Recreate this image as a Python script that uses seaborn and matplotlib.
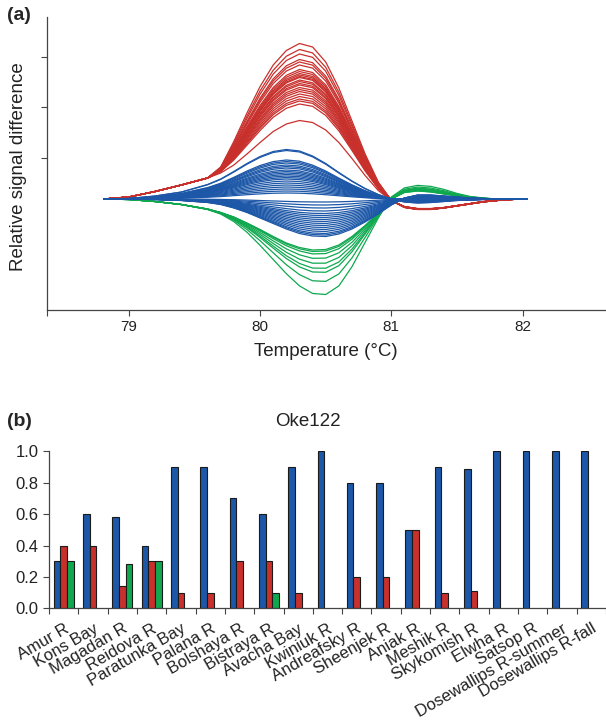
import numpy as np
import pandas as pd
import matplotlib
matplotlib.use("Agg")
import matplotlib.pyplot as plt
import matplotlib.transforms as mtransforms
import seaborn as sns

sns.set_theme(style="ticks")
plt.rcParams['font.family'] = ['Liberation Sans', 'DejaVu Sans']

# ---------------- Panel (a): difference curves ----------------
temps = [78.81, 79.0, 79.2, 79.4, 79.6, 79.7, 79.8, 79.9, 80.0, 80.1, 80.2, 80.3,
         80.4, 80.5, 80.6, 80.7, 80.8, 80.9, 81.0, 81.1, 81.2, 81.3, 81.4, 81.5,
         81.6, 81.7, 81.8, 81.9, 82.03]

# red cluster: lowest and highest curves
red_low = [0.0, 0.04, 0.15, 0.28, 0.42, 0.52, 0.68, 0.90, 1.13, 1.35, 1.50, 1.57,
           1.53, 1.38, 1.13, 0.81, 0.47, 0.17, -0.03, -0.15, -0.19, -0.19, -0.17, -0.13,
           -0.09, -0.05, -0.03, -0.01, 0.0]
red_high = [0.0, 0.04, 0.15, 0.28, 0.42, 0.64, 1.15, 1.72, 2.25, 2.68, 2.97, 3.11,
            3.04, 2.74, 2.22, 1.56, 0.90, 0.34, -0.03, -0.17, -0.21, -0.21, -0.18, -0.14,
            -0.10, -0.06, -0.03, -0.01, 0.0]
red_peaks = [3.11, 2.99, 2.90, 2.79, 2.74, 2.68, 2.59, 2.55, 2.51, 2.48, 2.45, 2.43,
             2.38, 2.35, 2.31, 2.28, 2.23, 2.19, 2.15, 2.10, 2.05, 2.00, 1.96, 1.90, 1.57]

# blue cluster: highest (up) and lowest (down) curves
blue_up = [0.0, 0.01, 0.06, 0.14, 0.29, 0.40, 0.55, 0.71, 0.85, 0.95, 0.99, 0.96,
           0.86, 0.71, 0.53, 0.36, 0.21, 0.09, 0.0, -0.06, -0.08, -0.07, -0.05, -0.03,
           -0.02, -0.01, 0.0, 0.0, 0.0]
blue_down = [0.0, 0.0, -0.01, -0.03, -0.07, -0.11, -0.18, -0.27, -0.38, -0.49, -0.60, -0.69,
             -0.74, -0.75, -0.70, -0.60, -0.46, -0.30, -0.12, 0.02, 0.08, 0.08, 0.06, 0.04,
             0.02, 0.01, 0.0, 0.0, 0.0]
blue_peaks = [0.99, 0.97, 0.78, 0.75, 0.72, 0.68, 0.65, 0.62, 0.58, 0.55, 0.52, 0.49,
              0.46, 0.43, 0.40, 0.36, 0.32, 0.28, 0.24, 0.20, 0.16, 0.12,
              -0.06, -0.12, -0.18, -0.24, -0.29, -0.33, -0.37, -0.41, -0.45, -0.49,
              -0.53, -0.57, -0.61, -0.65, -0.69, -0.72, -0.75]

# green cluster: shallowest and deepest curves
green_high = [0.0, -0.01, -0.05, -0.11, -0.20, -0.27, -0.36, -0.48, -0.61, -0.75, -0.88, -0.97,
              -1.02, -1.01, -0.92, -0.75, -0.53, -0.28, 0.0, 0.13, 0.16, 0.14, 0.10, 0.06,
              0.03, 0.01, 0.0, 0.0, 0.0]
green_low = [0.0, -0.01, -0.05, -0.11, -0.21, -0.30, -0.45, -0.66, -0.92, -1.20, -1.48, -1.72,
             -1.87, -1.89, -1.72, -1.34, -0.86, -0.38, 0.04, 0.22, 0.27, 0.25, 0.19, 0.11,
             0.05, 0.02, 0.0, 0.0, 0.0]
green_peaks = [-1.02, -1.05, -1.10, -1.19, -1.29, -1.39, -1.47, -1.65, -1.91]

# ---------------- Panel (b): allele frequencies ----------------
populations = ["Amur R", "Kons Bay", "Magadan R", "Reidova R", "Paratunka Bay",
               "Palana R", "Bolshaya R", "Bistraya R", "Avacha Bay", "Kwiniuk R",
               "Andreafsky R", "Sheenjek R", "Aniak R", "Meshik R", "Skykomish R",
               "Elwha R", "Satsop R", "Dosewallips R-summer", "Dosewallips R-fall"]
blue_freq = [0.30, 0.60, 0.58, 0.40, 0.90, 0.90, 0.70, 0.60, 0.90, 1.00,
             0.80, 0.80, 0.50, 0.90, 0.888, 1.00, 1.00, 1.00, 1.00]
red_freq = [0.40, 0.40, 0.14, 0.30, 0.10, 0.095, 0.30, 0.30, 0.095, None,
            0.20, 0.20, 0.50, 0.10, 0.112, None, None, None, None]
green_freq = [0.30, None, 0.285, 0.30, None, None, None, 0.095, None, None,
              None, None, None, None, None, None, None, None, None]

C_RED = "#c8302c"
C_BLUE = "#1c57a8"
C_GREEN = "#0fa84f"

# build curve table
rows = []
def add_group(name, lo, hi, peaks):
    lo = np.array(lo); hi = np.array(hi)
    plo, phi = lo[np.argmax(np.abs(lo))], hi[np.argmax(np.abs(hi))]
    for k, p in enumerate(peaks):
        w = (p - plo) / (phi - plo)
        vals = lo + w * (hi - lo)
        for t, v in zip(temps, vals):
            rows.append((name, f"{name}{k}", t, v))

add_group("red", red_low, red_high, red_peaks)
add_group("green", green_high, green_low, green_peaks)
bu = np.array(blue_up); bd = np.array(blue_down)
for k, p in enumerate(blue_peaks):
    vals = bu * (p / bu.max()) if p > 0 else bd * (p / bd.min())
    for t, v in zip(temps, vals):
        rows.append(("blue", f"blue{k}", t, v))
curves = pd.DataFrame(rows, columns=["group", "curve", "temp", "signal"])

bar_rows = []
for i, pop in enumerate(populations):
    for allele, vals in (("A", blue_freq), ("B", red_freq), ("C", green_freq)):
        if vals[i] is not None:
            bar_rows.append((pop, allele, vals[i]))
bars = pd.DataFrame(bar_rows, columns=["population", "allele", "freq"])

fig = plt.figure(figsize=(6.06, 7.26), dpi=100)
axa = fig.add_axes([46.5/606, 1-310/726, 1-46.5/606, (310-17)/726])
axb = fig.add_axes([49/606, 1-608.3/726, 1-49/606, (608.3-450.7)/726])

sns.lineplot(data=curves, x="temp", y="signal", hue="group", units="curve",
             estimator=None, hue_order=["red", "green", "blue"],
             palette={"red": C_RED, "green": C_GREEN, "blue": C_BLUE},
             linewidth=0.9, legend=False, ax=axa, sort=False)
axa.set_xlim(78.373, 82.635)
axa.set_ylim(-2.22, 3.64)
axa.set_xticks([79, 80, 81, 82])
axa.set_xticklabels(["79", "80", "81", "82"])
axa.set_xticks([78.373], minor=True)
axa.set_yticks([0.82, 1.84, 2.84])
axa.set_yticklabels([])
axa.set_xlabel("")
axa.set_ylabel("")
for s in ["top", "right"]:
    axa.spines[s].set_visible(False)
for s in ["left", "bottom"]:
    axa.spines[s].set_color("#444444")
    axa.spines[s].set_linewidth(0.9)
axa.tick_params(which="both", direction="out", length=4, width=0.8,
                colors="#444444", labelcolor="#222222", labelsize=11)

sns.barplot(data=bars, x="population", y="freq", hue="allele", order=populations,
            hue_order=["A", "B", "C"], palette={"A": C_BLUE, "B": C_RED, "C": C_GREEN},
            width=0.68, saturation=1, edgecolor="#1a1a1a", linewidth=0.8, errorbar=None,
            legend=False, ax=axb)
axb.set_xlim(-0.5, 18.5)
axb.set_ylim(0, 1.004)
axb.set_yticks([0.0, 0.2, 0.4, 0.6, 0.8, 1.0])
axb.set_yticklabels(["0.0", "0.2", "0.4", "0.6", "0.8", "1.0"])
axb.set_xticks(range(len(populations)))
axb.set_xticklabels(populations, rotation=30, ha="right", va="top",
                    rotation_mode="anchor")
shift = mtransforms.ScaledTranslation(8/100, 0, fig.dpi_scale_trans)
for lab in axb.get_xticklabels():
    lab.set_transform(lab.get_transform() + shift)
axb.set_xticks(np.arange(-0.5, 19, 1.0), minor=True)
axb.tick_params(axis="x", which="major", length=0, pad=9.2, labelsize=12, labelcolor="#222222")
axb.tick_params(axis="x", which="minor", direction="out", length=4, width=0.8, colors="#444444")
axb.tick_params(axis="y", direction="out", length=4, width=0.8, colors="#444444",
                labelcolor="#222222", labelsize=12)
axb.set_xlabel("")
axb.set_ylabel("")
for s in ["top", "right"]:
    axb.spines[s].set_visible(False)
for s in ["left", "bottom"]:
    axb.spines[s].set_color("#444444")
    axb.spines[s].set_linewidth(0.9)

fig.text(7/606, 1-16/726, "(a)", fontsize=14, fontweight="bold", ha="left", va="center")
fig.text(7/606, 1-422/726, "(b)", fontsize=14, fontweight="bold", ha="left", va="center")
fig.text(18.5/606, 1-167/726, "Relative signal difference", fontsize=13.5, rotation=90,
         ha="center", va="center", color="#222222")
fig.text(326/606, 1-352/726, "Temperature (°C)", fontsize=13.5, ha="center", va="center",
         color="#222222")
fig.text(308/606, 1-422/726, "Oke122", fontsize=13.5, ha="center", va="center", color="#222222")

fig.savefig("out.png", dpi=100)
